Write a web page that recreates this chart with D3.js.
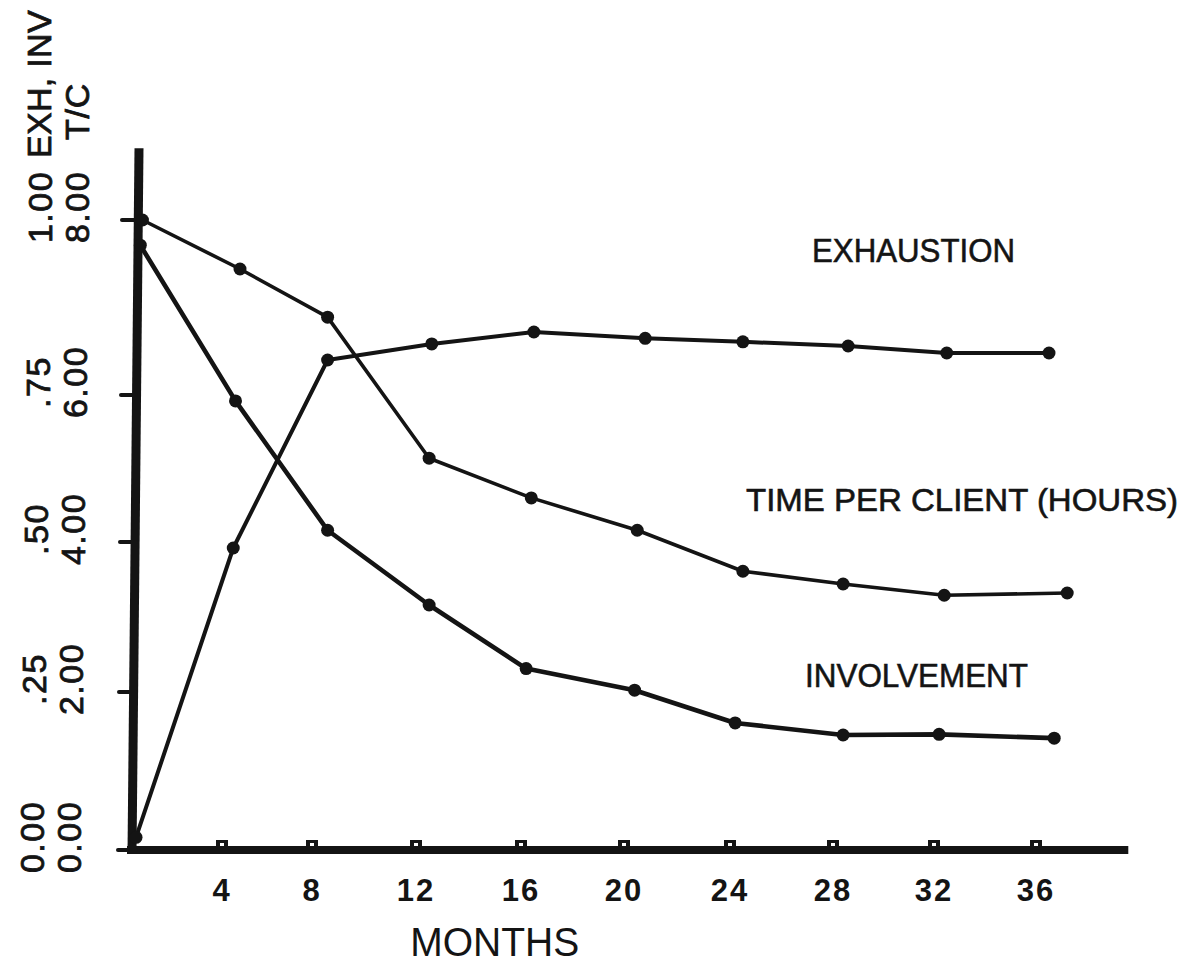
<!DOCTYPE html>
<html><head><meta charset="utf-8">
<script src="https://cdn.jsdelivr.net/npm/d3@7"></script>
<style>body{margin:0;background:#fff} svg{display:block}</style>
</head><body><svg id="c" width="1189" height="969"></svg>
<script>
// ---- data ----
const xTickValues = [4, 8, 12, 16, 20, 24, 28, 32, 36];
const xTickLabels = ["4", "8", "12", "16", "20", "24", "28", "32", "36"];
const tcTickValues = [0, 2, 4, 6, 8];
const tcTickLabels = ["0.00", "2.00", "4.00", "6.00", "8.00"];
const ratioTickValues = [0, 0.25, 0.5, 0.75, 1];
const ratioTickLabels = ["0.00", ".25", ".50", ".75", "1.00"];

// Exhaustion (EXH, 0-1 scale)
const exhMonths = [0, 4.5, 8.6, 12.6, 16.5, 20.8, 24.5, 28.6, 32.5, 36.5];
const exhValues = [0.02, 0.49, 0.80, 0.823, 0.84, 0.831, 0.826, 0.82, 0.81, 0.81];
// Time per client (T/C, hours)
const tpcMonths = [0.3, 4.8, 8.6, 12.5, 16.4, 20.5, 24.5, 28.4, 32.4, 37.2];
const tpcValues = [8.0, 7.44, 6.89, 5.14, 4.60, 4.16, 3.61, 3.44, 3.29, 3.32];
// Involvement (INV, 0-1 scale)
const invMonths = [0.2, 4.6, 8.6, 12.5, 16.2, 20.4, 24.2, 28.4, 32.2, 36.7];
const invValues = [0.964, 0.74, 0.52, 0.395, 0.289, 0.253, 0.201, 0.182, 0.183, 0.177];

const seriesLabels = ["EXHAUSTION", "TIME PER CLIENT (HOURS)", "INVOLVEMENT"];
const xTitle = "MONTHS";
const yTitleRatio = "EXH, INV";
const yTitleTC = "T/C";

// ---- drawing ----
const svg = d3.select("#c");
const ink = "#141414";
const font = "'Liberation Sans', Arial, sans-serif";

// hand-plotted axes: tick spacing is slightly uneven, so use polylinear scales
const x = d3.scaleLinear()
  .domain([0, 4, 8, 12, 16, 20, 24, 28, 32, 36, 40])
  .range([136, 222, 312, 416, 521, 624, 730, 833, 934, 1036, 1140]);
const yT = d3.scaleLinear().domain([0, 2, 4, 6, 8]).range([850, 692, 542, 395, 220]);
const yR = d3.scaleLinear().domain([0, 0.25, 0.5, 0.75, 1]).range([850, 692, 542, 395, 220]);

const xEnd = 39.55, yTop = 8.82;

// axes lines
svg.append("line")
  .attr("x1", x(0) + 3).attr("y1", yT(yTop))
  .attr("x2", x(0) - 4).attr("y2", yT(0) + 4)
  .attr("stroke", ink).attr("stroke-width", 9);
svg.append("line")
  .attr("x1", x(0) - 9).attr("y1", yT(0))
  .attr("x2", x(xEnd)).attr("y2", yT(0))
  .attr("stroke", ink).attr("stroke-width", 8);

// y tick marks
svg.selectAll(".ytick").data(tcTickValues).enter().append("line")
  .attr("x1", d => x(0) - 18 + (d / 8) * 4).attr("x2", x(0))
  .attr("y1", d => yT(d)).attr("y2", d => yT(d))
  .attr("stroke", ink).attr("stroke-width", 4).attr("stroke-linecap", "round");

// x tick marks (small squares on top of the axis)
svg.selectAll(".xtick").data(xTickValues).enter().append("rect")
  .attr("x", d => x(d) - 6).attr("y", yT(0) - 10)
  .attr("width", 12).attr("height", 8)
  .attr("fill", ink);
svg.selectAll(".xtickin").data(xTickValues).enter().append("rect")
  .attr("x", d => x(d) - 2).attr("y", yT(0) - 7)
  .attr("width", 4).attr("height", 3)
  .attr("fill", "#fff");

// x tick labels
svg.selectAll(".xlab").data(xTickValues).enter().append("text")
  .attr("x", d => x(d)).attr("y", yT(0) + 51)
  .attr("text-anchor", "middle")
  .attr("font-family", font).attr("font-size", 31).attr("font-weight", "bold")
  .attr("letter-spacing", 2)
  .attr("fill", ink)
  .text((d, i) => xTickLabels[i]);

// x title
svg.append("text")
  .attr("x", x(15)).attr("y", yT(0) + 106)
  .attr("text-anchor", "middle")
  .attr("font-family", font).attr("font-size", 41)
  .attr("textLength", 169).attr("lengthAdjust", "spacingAndGlyphs")
  .attr("fill", ink).text(xTitle);

// y tick labels (rotated), two columns
function rotLabel(xb, yc, txt, anchor, ls) {
  svg.append("text")
    .attr("transform", `translate(${xb},${yc}) rotate(-90)`)
    .attr("text-anchor", anchor)
    .attr("font-family", font).attr("font-size", 34)
    .attr("letter-spacing", ls)
    .attr("stroke", ink).attr("stroke-width", 0.8)
    .attr("fill", ink).text(txt);
}
ratioTickValues.forEach((v, i) => rotLabel(44 + (i * 2), yR(v) - 13, ratioTickLabels[i], "middle", 1.5));
tcTickValues.forEach((v, i) => rotLabel(81 + (i * 2), yT(v) - 13, tcTickLabels[i], "middle", 1.5));
rotLabel(51, yR(1) - 62, yTitleRatio, "start", 0.3);
rotLabel(89, yT(8) - 80, yTitleTC, "start", 0.8);

// series
const line = d3.line().x(d => x(d[0])).y(d => d[1]);
const series = [
  { pts: exhMonths.map((m, i) => [m, yR(exhValues[i])]), w: 4 },
  { pts: tpcMonths.map((m, i) => [m, yT(tpcValues[i])]), w: 3.6 },
  { pts: invMonths.map((m, i) => [m, yR(invValues[i])]), w: 4.6 }
];
series.forEach(s => {
  svg.append("path").attr("d", line(s.pts))
    .attr("fill", "none").attr("stroke", ink)
    .attr("stroke-width", s.w).attr("stroke-linejoin", "round");
  svg.selectAll(null).data(s.pts).enter().append("circle")
    .attr("cx", d => x(d[0])).attr("cy", d => d[1]).attr("r", 6.5)
    .attr("fill", ink);
});

// series labels
const labelSpecs = [
  { x: 812, y: 262, len: 203, fs: 34 },
  { x: 746, y: 511, len: 432, fs: 32 },
  { x: 805, y: 687, len: 223, fs: 34 }
];
seriesLabels.forEach((t, i) => {
  const s = labelSpecs[i];
  svg.append("text")
    .attr("x", s.x).attr("y", s.y)
    .attr("font-family", font).attr("font-size", s.fs)
    .attr("textLength", s.len).attr("lengthAdjust", "spacingAndGlyphs")
    .attr("stroke", ink).attr("stroke-width", 0.6)
    .attr("fill", ink).text(t);
});
</script>
</body></html>
